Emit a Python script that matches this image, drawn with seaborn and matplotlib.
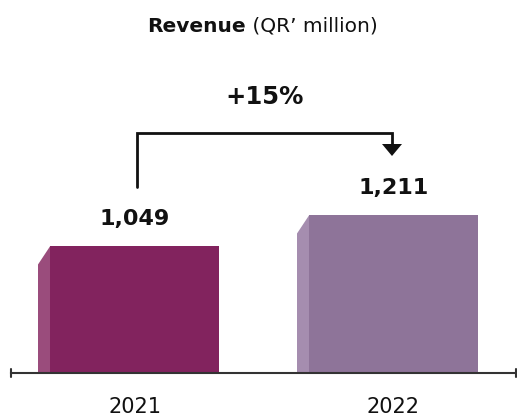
import matplotlib
matplotlib.use("Agg")
import matplotlib.pyplot as plt
import seaborn as sns
import pandas as pd
from matplotlib.patches import Polygon

years = ["2021", "2022"]
revenue = [1049, 1211]
value_labels = ["1,049", "1,211"]
growth_label = "+15%"
front_colors = ["#82235E", "#8E7499"]
side_colors = ["#9A4C7C", "#A58DAF"]

sns.set_theme(style="white")
plt.rcParams["font.family"] = ["DejaVu Sans"]

W, H, DPI = 517, 416, 100
fig = plt.figure(figsize=(W / DPI, H / DPI), dpi=DPI)

# axes: x from 11px to 516px, baseline at y=373px, top at 0
ax_left, ax_right, ax_base, ax_top = 11, 516, 373, 0
ax = fig.add_axes([ax_left / W, (H - ax_base) / H, (ax_right - ax_left) / W, (ax_base - ax_top) / H])

df = pd.DataFrame({"year": years, "revenue": revenue})
sns.barplot(data=df, x="year", y="revenue", hue="year", palette=front_colors,
            width=0.6525, legend=False, ax=ax, saturation=1, zorder=3,
            linewidth=0, edgecolor="none")

ymin = 385
px_per_unit = 127 / (1049 - ymin)
ymax = ymin + (ax_base - ax_top) / px_per_unit
ax.set_ylim(ymin, ymax)
sep = 259.0
x0 = -(134.5 - ax_left) / sep
ax.set_xlim(x0, x0 + (ax_right - ax_left) / sep)

for s in ["top", "right", "left"]:
    ax.spines[s].set_visible(False)
ax.spines["bottom"].set_color("#333333")
ax.spines["bottom"].set_linewidth(1.5)
ax.spines["bottom"].set_zorder(6)
ax.set_yticks([])
ax.set_xticks([])
ax.set_xlabel("")
ax.set_ylabel("")

# end ticks of axis
for xe in ax.get_xlim():
    ax.plot([xe, xe], [ymin - 4 / px_per_unit, ymin + 4 / px_per_unit], color="#333333",
            lw=1.5, clip_on=False, zorder=6)

# side faces (pseudo 3D)
dx = 12 / sep
dy = 18.5 / px_per_unit
for bar, sc in zip(ax.patches, side_colors):
    xl = bar.get_x()
    top = bar.get_height()
    poly = Polygon([(xl - dx, ymin), (xl - dx, top - dy), (xl + 0.001, top), (xl + 0.001, ymin)],
                   closed=True, facecolor=sc, edgecolor="none", lw=0, zorder=2.9)
    ax.add_patch(poly)

# value labels
for i, (v, lab) in enumerate(zip(revenue, value_labels)):
    ax.annotate(lab, (i, v), xytext=(0, 15), textcoords="offset points",
                ha="center", va="baseline", fontsize=16, fontweight="semibold", color="#111111")

# year labels
for i, y in enumerate(years):
    ax.annotate(y, (i, ymin), xytext=(0, -29), textcoords="offset points",
                ha="center", va="baseline", fontsize=15, color="#111111", annotation_clip=False)

# bracket arrow
def py(p):
    return ymin + (ax_base - p) / px_per_unit

bx0 = (137 - 134.5) / sep
bx1 = 1 + (392 - 393.5) / sep
ax.plot([bx0, bx0, bx1, bx1], [py(187), py(133), py(133), py(150)], color="#111111",
        lw=2, solid_joinstyle="miter", zorder=5)
ax.add_patch(Polygon([(bx1 - 10 / sep, py(144)), (bx1 + 10 / sep, py(144)), (bx1, py(156))],
                     closed=True, facecolor="#111111", edgecolor="none", zorder=5))
ax.text((bx0 + bx1) / 2, py(97), growth_label, ha="center", va="center",
        fontsize=17.5, fontweight="bold", color="#111111")

# title, centred at x=262.5px
ty = 1 - 26 / H
t1 = fig.text(0, ty, "Revenue", ha="left", va="center", fontsize=14.5,
              fontweight="bold", color="#111111")
t2 = fig.text(0, ty, " (QR\u2019 million)", ha="left", va="center", fontsize=14.5,
              color="#111111")
r = fig.canvas.get_renderer()
w1 = t1.get_window_extent(r).width
w2 = t2.get_window_extent(r).width
start = 262.5 - (w1 + w2) / 2
t1.set_x(start / W)
t2.set_x((start + w1) / W)

fig.savefig("out.png", dpi=DPI)
